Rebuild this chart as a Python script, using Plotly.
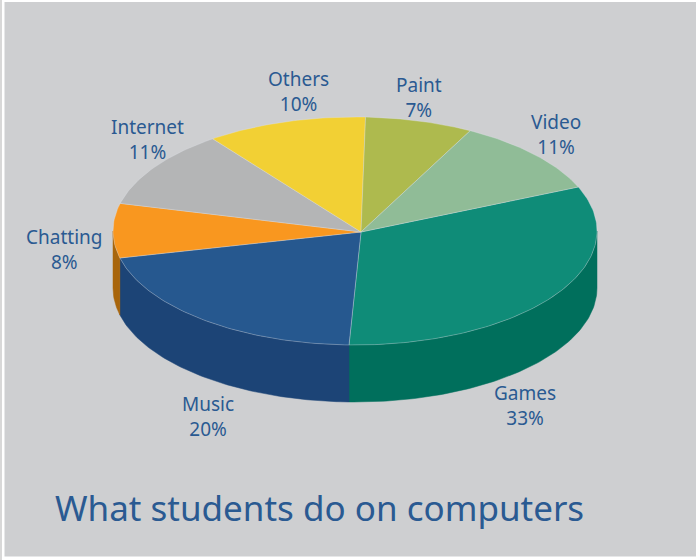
import math
import plotly.graph_objects as go

# Data
categories = ["Games", "Music", "Chatting", "Internet", "Others", "Paint", "Video"]
label_percents = [33, 20, 8, 11, 10, 7, 11]
drawn_shares = [31.7, 20.8, 7.7, 11.1, 10.7, 7.2, 10.8]
top_colors = ["#0f8c78", "#26588f", "#f9971f", "#b4b5b6", "#f2d034", "#aeba4e", "#90bc97"]
wall_colors = ["#006f5c", "#1c4476", "#a8650b", "#8f9091", "#b89c20", "#838d38", "#6c8e72"]
title_text = "What students do on computers"

# Drawing geometry of the tilted disc, in page pixels
CX, CY, RX, RY, DEPTH = 355.0, 231.0, 242.0, 114.0, 57.0
APEX_X, APEX_Y = 361.0, 232.0
START_ANGLE = 67.3
STEP = 1.0
TEXT_COLOR = "#2a5a92"
BG = "#cecfd1"
FONT = "Noto Sans"
label_anchors = [(525, 405), (208, 416), (64, 249), (147, 139), (298, 91), (419, 97), (556, 134)]


def rim(deg, drop=0.0):
    t = math.radians(deg)
    return CX + RX * math.sin(t), CY - RY * math.cos(t) + drop


def arc(a0, a1):
    n = max(2, int(abs(a1 - a0) / STEP) + 1)
    return [a0 + (a1 - a0) * i / (n - 1) for i in range(n)]


fig = go.Figure()
total = sum(drawn_shares)
angle = START_ANGLE
spans = []
for share in drawn_shares:
    sweep = share / total * 360
    spans.append((angle, angle + sweep))
    angle += sweep

# Side walls (visible part of the rim: 90..270 degrees clockwise from the back)
for (a0, a1), wall in zip(spans, wall_colors):
    lo, hi = max(a0, 90), min(a1, 270)
    if lo >= hi:
        continue
    degs = arc(lo, hi)
    top = [rim(d) for d in degs]
    bottom = [rim(d, DEPTH) for d in reversed(degs)]
    pts = top + bottom + [top[0]]
    fig.add_trace(go.Scatter(x=[p[0] for p in pts], y=[p[1] for p in pts], mode="lines",
                             fill="toself", fillcolor=wall, line=dict(color=wall, width=0.5),
                             hoverinfo="skip", showlegend=False))

# Top faces
for name, (a0, a1), color in zip(categories, spans, top_colors):
    pts = [(APEX_X, APEX_Y)] + [rim(d) for d in arc(a0, a1)] + [(APEX_X, APEX_Y)]
    fig.add_trace(go.Scatter(x=[p[0] for p in pts], y=[p[1] for p in pts], mode="lines",
                             fill="toself", fillcolor=color, name=name,
                             line=dict(color="rgba(225,230,235,0.45)", width=0.7),
                             hoverinfo="name", showlegend=False))

for name, pct, (x, y) in zip(categories, label_percents, label_anchors):
    fig.add_annotation(x=x, y=y, xref="x", yref="y", text=f"{name}<br>{pct}%", showarrow=False,
                       align="center", xanchor="center", yanchor="middle",
                       font=dict(family=FONT, size=19, color=TEXT_COLOR))

fig.add_annotation(x=319.5, y=507, xref="x", yref="y", text=title_text, showarrow=False,
                   xanchor="center", yanchor="middle",
                   font=dict(family=FONT, size=35, color=TEXT_COLOR))

fig.update_layout(
    width=696, height=560, margin=dict(l=0, r=0, t=0, b=0),
    paper_bgcolor="#ffffff", plot_bgcolor="#ffffff", showlegend=False,
    xaxis=dict(range=[0, 696], visible=False, fixedrange=True),
    yaxis=dict(range=[560, 0], visible=False, fixedrange=True),
    shapes=[
        dict(type="rect", xref="x", yref="y", x0=0, x1=2, y0=0, y1=560, fillcolor="#d8d8d8",
             line_width=0, layer="below"),
        dict(type="rect", xref="x", yref="y", x0=4.5, x1=696, y0=2, y1=556.5, fillcolor=BG,
             line_width=0, layer="below"),
    ],
)
fig.write_html("out.html", config={"displayModeBar": False},
               post_script="document.body.style.margin='0';document.body.style.overflow='hidden';")
